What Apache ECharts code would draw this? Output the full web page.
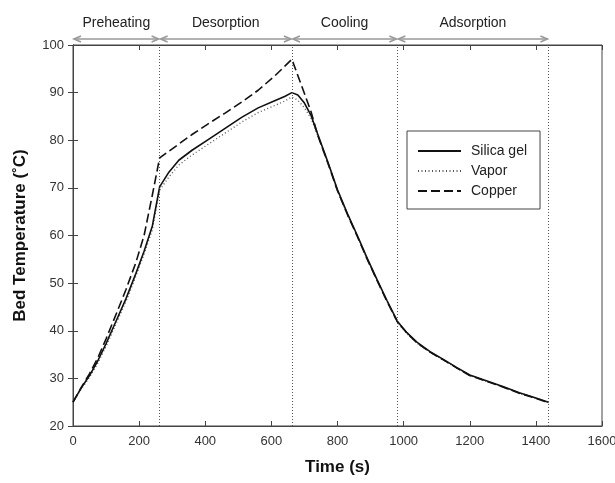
<!DOCTYPE html>
<html>
<head>
<meta charset="utf-8">
<script src="https://cdn.jsdelivr.net/npm/echarts@6/dist/echarts.min.js"></script>
<style>
html,body{margin:0;padding:0;background:#fff;}
#chart{width:615px;height:483px;}
</style>
</head>
<body>
<div id="chart"></div>
<script>
const times = [0, 25, 50, 75, 100, 130, 160, 190, 215, 240, 262, 290, 320, 360, 410, 460, 510, 560, 610, 640, 662, 680, 700, 720, 740, 770, 800, 830, 860, 890, 920, 950, 981, 1010, 1040, 1080, 1120, 1160, 1200, 1250, 1300, 1350, 1400, 1438];
const silicaGel = [25.0, 28.0, 30.6, 33.7, 37.3, 42.0, 46.7, 52.0, 56.7, 62.0, 70.2, 73.3, 75.8, 77.9, 80.2, 82.5, 84.8, 86.8, 88.3, 89.2, 90.0, 89.5, 87.8, 85.2, 81.3, 75.6, 69.6, 64.6, 60.0, 55.2, 50.7, 46.3, 42.0, 39.6, 37.6, 35.6, 34.0, 32.3, 30.7, 29.5, 28.3, 27.0, 25.9, 25.0];
const vapor = [25.0, 27.8, 30.2, 33.2, 36.7, 41.4, 46.1, 51.4, 56.1, 61.2, 69.5, 72.3, 74.8, 76.9, 79.2, 81.5, 83.8, 85.8, 87.3, 88.2, 89.1, 88.4, 86.8, 84.6, 81.0, 75.4, 69.4, 64.4, 59.8, 55.0, 50.5, 46.1, 41.8, 39.4, 37.4, 35.5, 33.9, 32.2, 30.6, 29.4, 28.2, 26.9, 25.8, 24.9];
const copper = [25.0, 28.1, 31.0, 34.3, 38.3, 43.4, 48.6, 54.3, 60.0, 68.5, 76.3, 77.7, 79.2, 81.2, 83.5, 85.7, 88.0, 90.5, 93.5, 95.5, 97.0, 93.6, 89.8, 86.0, 81.1, 75.4, 69.4, 64.4, 59.8, 55.0, 50.5, 46.1, 41.9, 39.5, 37.5, 35.5, 33.9, 32.2, 30.6, 29.4, 28.2, 26.9, 25.8, 24.9];
const seriesNames = ['Silica gel', 'Vapor', 'Copper'];
const phaseNames = ['Preheating', 'Desorption', 'Cooling', 'Adsorption'];
const phaseBounds = [0, 262, 662, 981, 1438];
const xMin = 0, xMax = 1600, xStep = 200;
const yMin = 20, yMax = 100, yStep = 10;

const pairs = (vals) => times.map((t, i) => [t, vals[i]]);
const FONT = 'Liberation Sans, Arial, sans-serif';
const AX = '#444';
const GRID = {left: 73, right: 13, top: 45, bottom: 57};

const chart = echarts.init(document.getElementById('chart'), null, {renderer: 'canvas'});

const axisCommon = {
  axisLine: {show: true, lineStyle: {color: AX, width: 1}},
  axisTick: {show: true, inside: true, length: 5, lineStyle: {color: AX}},
  splitLine: {show: false}
};
const plain = v => String(v);

const option = {
  animation: false,
  backgroundColor: '#fff',
  grid: Object.assign({show: true, borderColor: AX, borderWidth: 1, backgroundColor: 'transparent',
    containLabel: false, outerBoundsMode: 'none'}, GRID),
  legend: {
    orient: 'vertical',
    left: 407, top: 131,
    padding: [13, 13, 11, 10],
    itemGap: 6,
    itemWidth: 43,
    itemHeight: 14,
    borderColor: AX, borderWidth: 1,
    backgroundColor: '#fff',
    itemStyle: {opacity: 0},
    textStyle: {fontFamily: FONT, fontSize: 14, color: '#222', padding: [0, 0, 0, 5]},
    data: seriesNames
  },
  xAxis: [
    Object.assign({}, axisCommon, {
      type: 'value', min: xMin, max: xMax, interval: xStep, position: 'bottom',
      name: 'Time (s)', nameLocation: 'middle', nameGap: 33,
      nameTextStyle: {fontFamily: FONT, fontSize: 17, fontWeight: 'bold', color: '#111'},
      axisLabel: {fontFamily: FONT, fontSize: 13, color: '#333', margin: 9, formatter: plain}
    }),
    Object.assign({}, axisCommon, {
      type: 'value', min: xMin, max: xMax, interval: xStep, position: 'top',
      axisLabel: {show: false}
    })
  ],
  yAxis: [
    Object.assign({}, axisCommon, {
      type: 'value', min: yMin, max: yMax, interval: yStep, position: 'left',
      name: 'Bed Temperature (\u02DAC)', nameLocation: 'middle', nameGap: 44,
      nameTextStyle: {fontFamily: FONT, fontSize: 17, fontWeight: 'bold', color: '#111'},
      axisLabel: {fontFamily: FONT, fontSize: 13, color: '#333', margin: 9, formatter: plain}
    }),
    Object.assign({}, axisCommon, {
      type: 'value', min: yMin, max: yMax, interval: yStep, position: 'right',
      axisLabel: {show: false}
    })
  ],
  series: [
    {
      name: seriesNames[0], type: 'line', data: pairs(silicaGel),
      showSymbol: false, symbol: 'none', z: 4,
      lineStyle: {color: '#111', width: 1.6, type: 'solid'},
      itemStyle: {color: '#111'},
      markLine: {
        silent: true, symbol: 'none', label: {show: false},
        lineStyle: {color: '#555', width: 1, type: [1, 2]},
        data: phaseBounds.slice(1).map(v => ({xAxis: v}))
      }
    },
    {
      name: seriesNames[1], type: 'line', data: pairs(vapor),
      showSymbol: false, symbol: 'none', z: 3,
      lineStyle: {color: '#555', width: 1.3, type: [1, 2.5]},
      itemStyle: {color: '#555'}
    },
    {
      name: seriesNames[2], type: 'line', data: pairs(copper),
      showSymbol: false, symbol: 'none', z: 3,
      lineStyle: {color: '#111', width: 1.6, type: [9, 4]},
      itemStyle: {color: '#111'}
    }
  ]
};
chart.setOption(option);

// Phase annotations (arrows + labels) above the plot
const arrowY = GRID.top - 6;
const labelY = GRID.top - 22;
const ARROW = '#999';
const graphics = [];
for (let i = 0; i < phaseNames.length; i++) {
  const x0 = chart.convertToPixel({xAxisIndex: 0}, phaseBounds[i]) + 1;
  const x1 = chart.convertToPixel({xAxisIndex: 0}, phaseBounds[i + 1]) - 1;
  graphics.push({type: 'line', shape: {x1: x0, y1: arrowY, x2: x1, y2: arrowY},
    style: {stroke: ARROW, lineWidth: 1.6}, silent: true});
  graphics.push({type: 'polyline', shape: {points: [[x0 + 7, arrowY - 3], [x0, arrowY], [x0 + 7, arrowY + 3]]},
    style: {stroke: ARROW, lineWidth: 1.6, fill: null}, silent: true});
  graphics.push({type: 'polyline', shape: {points: [[x1 - 7, arrowY - 3], [x1, arrowY], [x1 - 7, arrowY + 3]]},
    style: {stroke: ARROW, lineWidth: 1.6, fill: null}, silent: true});
  graphics.push({type: 'text', x: (x0 + x1) / 2, y: labelY, silent: true,
    style: {text: phaseNames[i], fontFamily: FONT, fontSize: 14, fill: '#222',
      textAlign: 'center', textVerticalAlign: 'middle'}});
}
chart.setOption({graphic: graphics});
</script>
</body>
</html>
